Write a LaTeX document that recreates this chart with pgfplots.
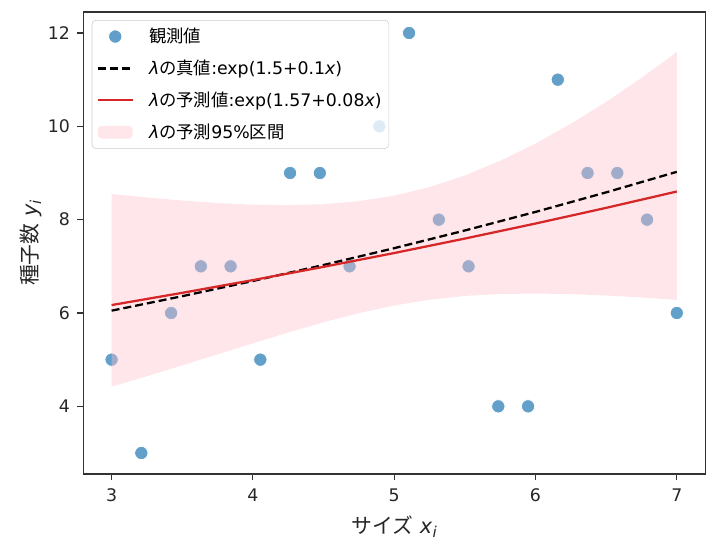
\documentclass[border=0pt]{standalone}
\usepackage{fontspec}
\setmainfont{DejaVu Sans}
\newfontfamily\jp{Noto Sans CJK JP}
\usepackage{pgfplots}
\pgfplotsset{compat=1.18}
\definecolor{cblue}{RGB}{31,119,180}
\definecolor{cred}{RGB}{214,39,40}
\definecolor{pinkc}{RGB}{255,192,203}
\newcommand{\mvar}[2]{{\itshape #1\kern0.02em\raisebox{-0.35ex}{\scalebox{0.72}{#2}}}}
\newcommand{\ix}{{\itshape x}}
\newcommand{\lam}{{\itshape λ}}
\pgfplotsset{
  mymarklegend/.style={legend image code/.code={\path (0cm,0cm) (1.25cm,0cm); \draw[mark repeat=2,mark phase=2,##1] plot coordinates {(0cm,0cm) (0.46cm,0cm) (0.92cm,0cm)};}},
  mylinelegend/.style={legend image code/.code={\path (0cm,0cm) (1.25cm,0cm); \draw[##1] (0cm,0cm) -- (0.92cm,0cm);}},
  myarealegend/.style={legend image code/.code={\path (0cm,0cm) (1.25cm,0cm); \fill[##1] (0cm,-0.17cm) rectangle (0.92cm,0.17cm);}},
}
\begin{document}
\begin{tikzpicture}
\begin{axis}[
  at={(0,0)}, anchor=south west,
  width=466.3pt, height=346.5pt, scale only axis,
  clip mode=individual,
  xmin=2.8, xmax=7.2, ymin=2.55, ymax=12.45,
  xtick={3,4,5,6,7}, ytick={4,6,8,10,12},
  tick align=outside, tick pos=left, major tick length=4.5pt,
  axis line style={black!80, line width=0.8pt},
  every tick/.style={black!80, line width=0.8pt},
  /pgf/number format/assume math mode=true,
  ticklabel style={font=\fontsize{13}{15}\selectfont, text=black!85},
  xticklabel style={yshift=-3pt},
  yticklabel style={xshift=-2pt},
  xlabel={{\jp サイズ} \mvar{x}{i}},
  ylabel={{\jp 種子数} \mvar{y}{i}},
  label style={font=\fontsize{15.6}{18}\selectfont, text=black!85},
  xlabel style={yshift=-3.5pt},
  ylabel style={yshift=-2pt},
  legend cell align=left,
  legend style={at={(0,1)}, xshift=6.3pt, yshift=-6pt, anchor=north west,
    draw=black!20, rounded corners=3pt, fill=white, fill opacity=0.8, text opacity=1,
    font=\fontsize{13}{15}\selectfont, row sep=7.5pt, inner xsep=3.5pt, inner ysep=4pt},
]
% observations
\addplot[only marks, mark=*, mark size=5pt,
  mark options={fill=cblue, fill opacity=0.7, draw=white, draw opacity=1, line width=0.6pt},
  mymarklegend] coordinates {
(3.0000,5) (3.2105,3) (3.4211,6) (3.6316,7) (3.8421,7)
(4.0526,5) (4.2632,9) (4.4737,9) (4.6842,7) (4.8947,10)
(5.1053,12) (5.3158,8) (5.5263,7) (5.7368,4) (5.9474,4)
(6.1579,11) (6.3684,9) (6.5789,9) (6.7895,8) (7.0000,6)
};
\addlegendentry{{\jp 観測値}}
% 95% band
\addplot[fill=pinkc, fill opacity=0.4, draw=none, forget plot] coordinates {
(3.00,8.550) (3.25,8.475) (3.50,8.410) (3.75,8.356) (4.00,8.321)
(4.25,8.310) (4.50,8.331) (4.75,8.396) (5.00,8.515) (5.25,8.698)
(5.50,8.947) (5.75,9.260) (6.00,9.632) (6.25,10.054) (6.50,10.524)
(6.75,11.037) (7.00,11.593)
(7.00,6.281) (6.75,6.333) (6.50,6.375) (6.25,6.405) (6.00,6.417)
(5.75,6.407) (5.50,6.365) (5.25,6.284) (5.00,6.161) (4.75,5.998)
(4.50,5.801) (4.25,5.582) (4.00,5.350) (3.75,5.114) (3.50,4.878)
(3.25,4.646) (3.00,4.420) (3.00,8.550)
};
% true lambda
\addplot[black, line width=1.7pt, dash pattern=on 6pt off 3pt, mylinelegend] coordinates {
(3.0,6.050) (3.5,6.360) (4.0,6.686) (4.5,7.029) (5.0,7.389)
(5.5,7.768) (6.0,8.166) (6.5,8.585) (7.0,9.025)
};
\addlegendentry{\lam{\jp の真値}:exp(1.5+0.1\ix)}
% predicted lambda
\addplot[cred, line width=1.7pt, mylinelegend] coordinates {
(3.0,6.170) (3.5,6.432) (4.0,6.705) (4.5,6.989) (5.0,7.285)
(5.5,7.595) (6.0,7.917) (6.5,8.253) (7.0,8.603)
};
\addlegendentry{\lam{\jp の予測値}:exp(1.57+0.08\ix)}
\addlegendimage{myarealegend, fill=pinkc, fill opacity=0.4, draw=none}
\addlegendentry{\lam{\jp の予測}95\%{\jp 区間}}
\end{axis}
\path[use as bounding box] (-62.5pt,-53.25pt) rectangle (476pt,355.5pt);
\end{tikzpicture}
\end{document}
